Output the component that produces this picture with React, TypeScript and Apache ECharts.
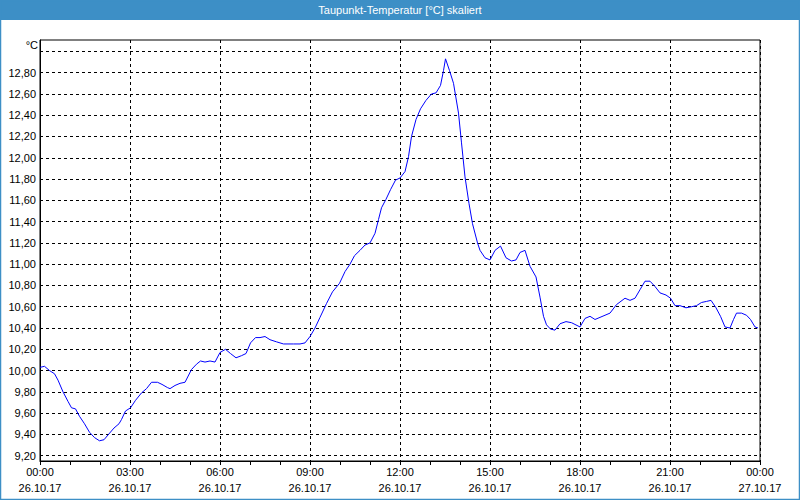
import React, { useEffect, useRef } from "react";
import * as echarts from "echarts";

const TITLE = "Taupunkt-Temperatur [°C] skaliert";
const UNIT = "°C";

// minutes since 26.10.17 00:00
const MINUTES = [
  0, 9, 19, 29, 36, 46, 56, 63, 71, 79, 89, 99, 109, 119, 128, 137, 148, 158, 163, 171,
  181, 191, 203, 213, 223, 235, 244, 255, 260, 270, 280, 290, 303, 313, 321, 330, 340, 350, 360, 371,
  381, 392, 403, 412, 421, 431, 440, 450, 460, 473, 487, 507, 520, 530, 540, 550, 560, 573, 585, 599,
  610, 620, 629, 640, 650, 660, 670, 677, 683, 692, 701, 711, 720, 730, 737, 743, 752, 761, 772, 783,
  792, 801, 807, 811, 819, 827, 837, 843, 850, 858, 865, 875, 880, 890, 900, 910, 921, 932, 943, 952,
  960, 970, 980, 992, 1000, 1007, 1013, 1021, 1030, 1040, 1052, 1063, 1080, 1090, 1100, 1110, 1120, 1140, 1153, 1170,
  1180, 1190, 1200, 1210, 1220, 1230, 1240, 1252, 1261, 1270, 1280, 1292, 1303, 1313, 1323, 1333, 1342, 1352, 1361, 1370,
  1380, 1387, 1393, 1403, 1413, 1421, 1430, 1436,
];

const VALUES = [
  10.03, 10.04, 10.0, 9.97, 9.91, 9.8, 9.71, 9.65, 9.64, 9.57, 9.5, 9.42, 9.37, 9.34, 9.35, 9.4, 9.46, 9.5, 9.54, 9.62,
  9.65, 9.72, 9.79, 9.83, 9.89, 9.89, 9.87, 9.84, 9.83, 9.86, 9.88, 9.89, 10.01, 10.06, 10.09, 10.08, 10.09, 10.08, 10.17, 10.2,
  10.16, 10.12, 10.14, 10.16, 10.26, 10.31, 10.31, 10.32, 10.29, 10.27, 10.25, 10.25, 10.25, 10.26, 10.32, 10.4, 10.5, 10.63, 10.74, 10.82,
  10.93, 11.0, 11.08, 11.13, 11.18, 11.2, 11.29, 11.42, 11.53, 11.61, 11.7, 11.79, 11.81, 11.87, 12.01, 12.2, 12.36, 12.46, 12.54, 12.6,
  12.61, 12.68, 12.82, 12.93, 12.82, 12.7, 12.42, 12.14, 11.82, 11.57, 11.38, 11.2, 11.13, 11.06, 11.04, 11.13, 11.17, 11.06, 11.03, 11.04,
  11.11, 11.13, 10.98, 10.88, 10.69, 10.51, 10.43, 10.39, 10.38, 10.44, 10.46, 10.45, 10.41, 10.49, 10.51, 10.48, 10.5, 10.54, 10.62, 10.68,
  10.66, 10.68, 10.76, 10.84, 10.84, 10.79, 10.73, 10.71, 10.68, 10.61, 10.61, 10.59, 10.6, 10.61, 10.64, 10.65, 10.66, 10.59, 10.51, 10.41,
  10.4, 10.48, 10.54, 10.54, 10.52, 10.48, 10.41, 10.4,
];

const Y_GRID_TICKS = [9.2, 9.4, 9.6, 9.8, 10.0, 10.2, 10.4, 10.6, 10.8, 11.0, 11.2, 11.4, 11.6, 11.8, 12.0, 12.2, 12.4, 12.6, 12.8, 13.0];
const Y_LABEL_TICKS = [9.2, 9.4, 9.6, 9.8, 10.0, 10.2, 10.4, 10.6, 10.8, 11.0, 11.2, 11.4, 11.6, 11.8, 12.0, 12.2, 12.4, 12.6, 12.8];
const Y_MIN = 9.15;
const Y_MAX = 13.107;

const X_MIN = 0;
const X_MAX = 1440;
const X_INTERVAL = 180;
const DATE_START = "26.10.17";
const DATE_END = "27.10.17";

export default function App() {
  const ref = useRef<HTMLDivElement>(null);

  useEffect(() => {
    if (!ref.current) return;
    const chart = echarts.init(ref.current, null, { renderer: "svg" });
    const font = "Liberation Sans, Arial, sans-serif";
    const data = MINUTES.map((m, i) => [m, VALUES[i]]);

    chart.setOption({
      animation: false,
      backgroundColor: "#ffffff",
      graphic: [
        {
          type: "rect",
          shape: { x: 0, y: 0, width: 800, height: 20 },
          style: { fill: "#3d8fc6" },
          silent: true,
        },
        {
          type: "rect",
          shape: { x: 0.5, y: 0.5, width: 799, height: 499 },
          style: { fill: "none", stroke: "#3d8fc6", lineWidth: 1.5 },
          silent: true,
        },
        {
          type: "text",
          x: 400,
          y: 10,
          style: {
            text: TITLE,
            fill: "#ffffff",
            font: `11px ${font}`,
            align: "center",
            verticalAlign: "middle",
          },
          silent: true,
        },
        {
          type: "text",
          x: 38,
          y: 45,
          style: {
            text: UNIT,
            fill: "#000000",
            font: `11px ${font}`,
            align: "right",
            verticalAlign: "middle",
          },
          silent: true,
        },
      ],
      grid: {
        left: 40,
        right: 40,
        top: 40,
        bottom: 39,
        show: true,
        borderColor: "#000000",
        borderWidth: 1,
        backgroundColor: "transparent",
      },
      xAxis: {
        type: "value",
        min: X_MIN,
        max: X_MAX,
        interval: X_INTERVAL,
        axisLine: { show: true, lineStyle: { color: "#000000", width: 1 } },
        axisTick: { show: true, length: 4, lineStyle: { color: "#000000" } },
        minorTick: { show: true, splitNumber: 3, length: 4, lineStyle: { color: "#000000" } },
        minorSplitLine: { show: false },
        splitLine: { show: true, lineStyle: { color: "#000000", type: [3, 3], width: 1 } },
        axisLabel: {
          color: "#000000",
          fontFamily: font,
          fontSize: 11,
          lineHeight: 16,
          margin: 3,
          formatter: (v: number) => {
            const h = Math.round(v / 60) % 24;
            const hh = (h < 10 ? "0" : "") + h + ":00";
            return hh + "\n" + (v >= X_MAX ? DATE_END : DATE_START);
          },
        },
      },
      yAxis: {
        type: "value",
        min: Y_MIN,
        max: Y_MAX,
        axisLine: { show: true, lineStyle: { color: "#000000", width: 1 } },
        axisTick: { show: false, customValues: Y_GRID_TICKS },
        splitLine: { show: true, lineStyle: { color: "#000000", type: [3, 3], width: 1 } },
        axisLabel: {
          customValues: Y_LABEL_TICKS,
          color: "#000000",
          fontFamily: font,
          fontSize: 11,
          margin: 4,
          formatter: (v: number) => v.toFixed(2).replace(".", ","),
        },
      },
      series: [
        {
          type: "line",
          data,
          showSymbol: false,
          symbol: "none",
          lineStyle: { color: "#0000ff", width: 1 },
          smooth: false,
        },
      ],
    });

    return () => chart.dispose();
  }, []);

  return (
    <div
      ref={ref}
      style={{ position: "absolute", left: 0, top: 0, width: 800, height: 500 }}
    />
  );
}
